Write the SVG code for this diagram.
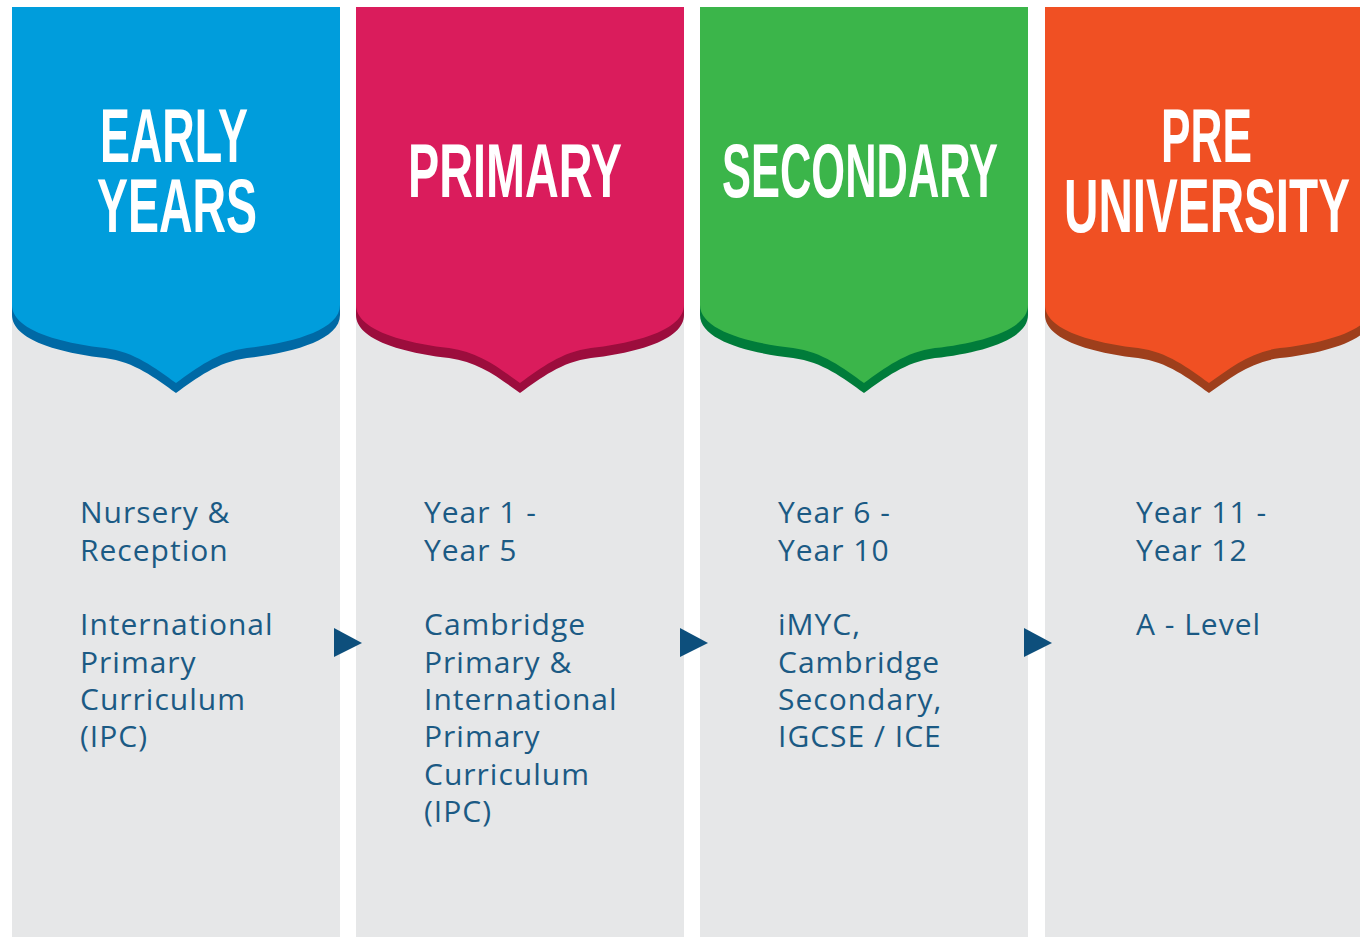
<svg xmlns="http://www.w3.org/2000/svg" width="1360" height="937" viewBox="0 0 1360 937">
<style>
.col{fill:#e6e7e8}
.title{font-family:"Liberation Sans",Arial,sans-serif;font-weight:bold;font-size:76px;fill:#ffffff}
.body{font-family:"Open Sans","Noto Sans",sans-serif;font-size:30px;fill:#1b5a84;letter-spacing:1px}
.arrow{fill:#0d4f7c}
</style>
<defs>
<path id="banner" d="M0,7 H328 V305 C328,330 280,343 235,348 C205,352 185,368 164,383 C143,368 123,352 93,348 C48,343 0,330 0,305 Z"/>
</defs>
<rect width="1360" height="937" fill="#ffffff"/>
<g id="early-years">
<rect class="col" x="12" y="7" width="328" height="930"/>
<use href="#banner" transform="translate(12,10)" fill="#0069a5"/>
<use href="#banner" transform="translate(12,0)" fill="#009ddc"/>
<text class="title" x="100" y="162" textLength="148" lengthAdjust="spacingAndGlyphs">EARLY</text>
<text class="title" x="97" y="232" textLength="160" lengthAdjust="spacingAndGlyphs">YEARS</text>
<text class="body" x="80"><tspan x="80" y="523">Nursery &amp;</tspan><tspan x="80" y="561">Reception</tspan><tspan x="80" y="635">International</tspan><tspan x="80" y="673">Primary</tspan><tspan x="80" y="710">Curriculum</tspan><tspan x="80" y="747">(IPC)</tspan></text>
</g>
<g id="primary">
<rect class="col" x="356" y="7" width="328" height="930"/>
<use href="#banner" transform="translate(356,10)" fill="#9c0d3d"/>
<use href="#banner" transform="translate(356,0)" fill="#da1c5c"/>
<text class="title" x="408" y="197" textLength="214" lengthAdjust="spacingAndGlyphs">PRIMARY</text>
<text class="body"><tspan x="424" y="523">Year 1 -</tspan><tspan x="424" y="561">Year 5</tspan><tspan x="424" y="635">Cambridge</tspan><tspan x="424" y="673">Primary &amp;</tspan><tspan x="424" y="710">International</tspan><tspan x="424" y="747">Primary</tspan><tspan x="424" y="785">Curriculum</tspan><tspan x="424" y="822">(IPC)</tspan></text>
</g>
<g id="secondary">
<rect class="col" x="700" y="7" width="328" height="930"/>
<use href="#banner" transform="translate(700,10)" fill="#007c3a"/>
<use href="#banner" transform="translate(700,0)" fill="#3bb54a"/>
<text class="title" x="722" y="197" textLength="276" lengthAdjust="spacingAndGlyphs">SECONDARY</text>
<text class="body"><tspan x="778" y="523">Year 6 -</tspan><tspan x="778" y="561">Year 10</tspan><tspan x="778" y="635">iMYC,</tspan><tspan x="778" y="673">Cambridge</tspan><tspan x="778" y="710">Secondary,</tspan><tspan x="778" y="747">IGCSE / ICE</tspan></text>
</g>
<g id="pre-university">
<rect class="col" x="1045" y="7" width="328" height="930"/>
<use href="#banner" transform="translate(1045,10)" fill="#9e3f1c"/>
<use href="#banner" transform="translate(1045,0)" fill="#f05023"/>
<text class="title" x="1161" y="162" textLength="91" lengthAdjust="spacingAndGlyphs">PRE</text>
<text class="title" x="1064" y="232" textLength="286" lengthAdjust="spacingAndGlyphs">UNIVERSITY</text>
<text class="body"><tspan x="1136" y="523">Year 11 -</tspan><tspan x="1136" y="561">Year 12</tspan><tspan x="1136" y="635">A - Level</tspan></text>
</g>
<g id="connectors">
<polygon class="arrow" points="334,628 362,643 334,657"/>
<polygon class="arrow" points="680,628 708,643 680,657"/>
<polygon class="arrow" points="1024,628 1052,643 1024,657"/>
</g>
</svg>
